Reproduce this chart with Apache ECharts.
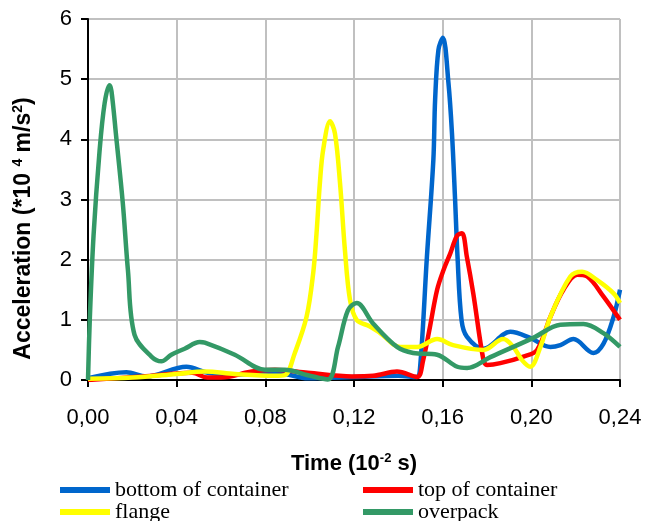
<!DOCTYPE html>
<html>
<head>
<meta charset="utf-8">
<script src="https://cdn.jsdelivr.net/npm/echarts@6/dist/echarts.min.js"></script>
<style>
  html, body { margin: 0; padding: 0; background: #fff; }
  #main { width: 646px; height: 521px; }
</style>
</head>
<body>
<div id="main"></div>
<script>
// [time, acceleration] pairs
var seriesNames = ["bottom of container", "top of container", "flange", "overpack"];

var bottomData = [
  [0, 0.03], [0.0173, 0.13], [0.0263, 0.06], [0.0444, 0.22], [0.054, 0.12], [0.066, 0.09],
  [0.08, 0.12], [0.0888, 0.1], [0.0992, 0.03], [0.12, 0.05], [0.14, 0.07], [0.1483, 0.05],
  [0.1498, 0.2], [0.1529, 2.05], [0.1558, 3.66], [0.1566, 4.66], [0.1581, 5.49], [0.1601, 5.69],
  [0.1626, 4.94], [0.1642, 4.1], [0.1656, 3.0], [0.1667, 2.05], [0.1685, 1.0], [0.1709, 0.72],
  [0.1784, 0.52], [0.1905, 0.8], [0.1995, 0.7], [0.2086, 0.55], [0.2131, 0.58], [0.219, 0.68],
  [0.228, 0.45], [0.2325, 0.6], [0.2371, 1.05], [0.24, 1.5]
];

var topData = [
  [0, 0.0], [0.0246, 0.06], [0.0399, 0.11], [0.047, 0.12], [0.054, 0.04], [0.06, 0.04],
  [0.0739, 0.14], [0.0843, 0.17], [0.0992, 0.12], [0.1191, 0.06], [0.1286, 0.07], [0.1394, 0.14],
  [0.1485, 0.05], [0.1512, 0.33], [0.1543, 0.89], [0.1575, 1.5], [0.1604, 1.83], [0.1634, 2.1],
  [0.1665, 2.4], [0.1687, 2.44], [0.1709, 2.05], [0.1738, 1.44], [0.1784, 0.33], [0.18, 0.25],
  [0.186, 0.28], [0.1964, 0.39], [0.2026, 0.5], [0.2086, 1.05], [0.2145, 1.5], [0.2207, 1.75],
  [0.2252, 1.72], [0.2325, 1.39], [0.24, 1.0]
];

var flangeData = [
  [0, 0.02], [0.02, 0.04], [0.0399, 0.1], [0.0527, 0.14], [0.0662, 0.1], [0.0843, 0.07],
  [0.0888, 0.08], [0.0933, 0.45], [0.0986, 1.05], [0.1016, 1.78], [0.1031, 2.44], [0.1046, 3.27],
  [0.1061, 3.83], [0.1092, 4.3], [0.1114, 4.1], [0.1137, 3.27], [0.1159, 2.16], [0.1182, 1.33],
  [0.1212, 1.0], [0.1272, 0.89], [0.1318, 0.78], [0.1408, 0.55], [0.1485, 0.55], [0.1575, 0.68],
  [0.1647, 0.58], [0.1784, 0.5], [0.1873, 0.68], [0.1919, 0.55], [0.1958, 0.33], [0.1995, 0.22],
  [0.2041, 0.55], [0.2086, 1.05], [0.2176, 1.72], [0.2229, 1.8], [0.2297, 1.66], [0.2371, 1.44],
  [0.24, 1.28]
];

var overpackData = [
  [0, 0], [0.0008, 1.0], [0.0025, 2.4], [0.0052, 3.8], [0.0075, 4.6], [0.0097, 4.9],
  [0.0106, 4.8], [0.0127, 4.05], [0.0157, 2.94], [0.018, 1.83], [0.021, 0.75], [0.0286, 0.39],
  [0.0331, 0.31], [0.0376, 0.42], [0.0436, 0.52], [0.0504, 0.63], [0.0527, 0.62], [0.0662, 0.42],
  [0.0798, 0.17], [0.0888, 0.17], [0.0992, 0.08], [0.1082, 0.01], [0.1128, 0.55], [0.1173, 1.16],
  [0.1212, 1.28], [0.1286, 0.94], [0.1394, 0.55], [0.1467, 0.45], [0.1575, 0.42], [0.1666, 0.22],
  [0.171, 0.2], [0.1815, 0.38], [0.2009, 0.7], [0.2131, 0.92], [0.2235, 0.93], [0.2325, 0.78],
  [0.24, 0.55]
];

var seriesColors = ["#0066cc", "#ff0000", "#ffff00", "#339966"];

var chart = echarts.init(document.getElementById("main"));

function makeLine(name, data, color) {
  return {
    name: name,
    type: "line",
    data: data,
    smooth: 0.35,
    showSymbol: false,
    color: color,
    lineStyle: { width: 4.5, color: color },
    animation: false
  };
}

var legendText = { fontFamily: "Liberation Serif", fontSize: 22, color: "#000", lineHeight: 20 };

function makeLegend(names, left) {
  return {
    data: names,
    orient: "vertical", left: left, top: 479,
    padding: 0, height: 60,
    icon: "rect", itemWidth: 50, itemHeight: 6, itemGap: 0,
    textStyle: legendText
  };
}

var option = {
  backgroundColor: "#fff",
  grid: { left: 88, right: 26, top: 19, bottom: 141 },
  legend: [
    makeLegend([seriesNames[0], seriesNames[2]], 60),
    makeLegend([seriesNames[1], seriesNames[3]], 363)
  ],
  xAxis: {
    type: "value",
    min: 0, max: 0.24, interval: 0.04,
    name: "{b|Time (10}{s|-2}{b| s)}",
    nameLocation: "middle",
    nameGap: 72,
    nameTextStyle: {
      rich: {
        b: { fontFamily: "Liberation Sans", fontWeight: "bold", fontSize: 22, color: "#000", lineHeight: 24 },
        s: { fontFamily: "Liberation Sans", fontWeight: "bold", fontSize: 13, color: "#000", verticalAlign: "top", lineHeight: 24 }
      }
    },
    axisLine: { lineStyle: { color: "#000", width: 2 } },
    axisTick: { show: true, length: 7, lineStyle: { color: "#000", width: 2 } },
    axisLabel: {
      margin: 27,
      fontFamily: "Liberation Sans", fontSize: 22, color: "#000",
      formatter: function (v) { return v.toFixed(2).replace(".", ","); }
    },
    splitLine: { show: true, lineStyle: { color: "#c0c0c0", width: 2 } }
  },
  yAxis: {
    type: "value",
    min: 0, max: 6, interval: 1,
    name: "{b|Acceleration (*10 }{s|4}{b| m/s}{s|2}{b|)}",
    nameLocation: "middle",
    nameRotate: 90,
    nameGap: 52,
    nameTextStyle: {
      padding: [0, 58, 0, 0],
      rich: {
        b: { fontFamily: "Liberation Sans", fontWeight: "bold", fontSize: 23, color: "#000", lineHeight: 25 },
        s: { fontFamily: "Liberation Sans", fontWeight: "bold", fontSize: 14, color: "#000", verticalAlign: "top", lineHeight: 25 }
      }
    },
    axisLine: { show: true, lineStyle: { color: "#000", width: 2 } },
    axisTick: { show: true, length: 7, lineStyle: { color: "#000", width: 2 } },
    axisLabel: { margin: 16, fontFamily: "Liberation Sans", fontSize: 22, color: "#000" },
    splitLine: { show: true, lineStyle: { color: "#c0c0c0", width: 2 } }
  },
  series: [
    makeLine(seriesNames[0], bottomData, seriesColors[0]),
    makeLine(seriesNames[1], topData, seriesColors[1]),
    makeLine(seriesNames[2], flangeData, seriesColors[2]),
    makeLine(seriesNames[3], overpackData, seriesColors[3])
  ]
};

chart.setOption(option);
</script>
</body>
</html>
